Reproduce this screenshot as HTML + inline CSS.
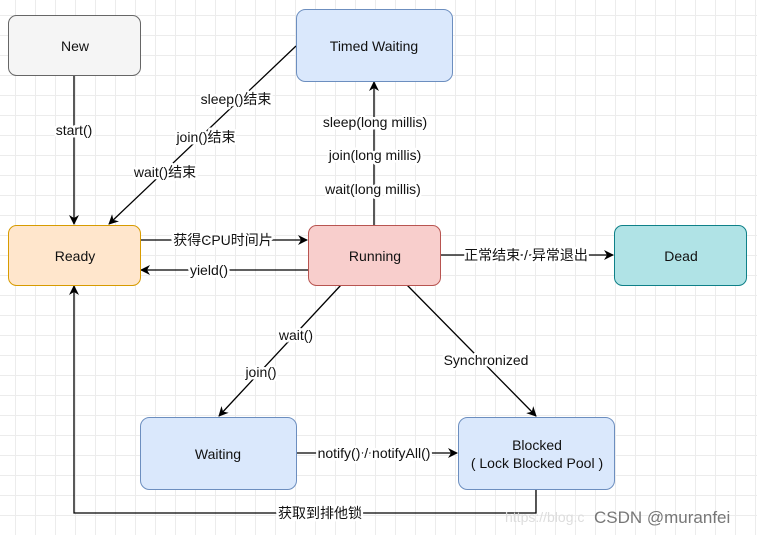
<!DOCTYPE html>
<html><head><meta charset="utf-8"><style>
body{margin:0;width:757px;height:535px;overflow:hidden;background:#fff;
background-image:linear-gradient(#ececec 1px,transparent 1px),linear-gradient(90deg,#ececec 1px,transparent 1px);background-size:20px 20px;background-position:-5px -5px;}
svg{position:absolute;left:0;top:0}
text{font-family:"Liberation Sans","Noto Sans CJK SC",sans-serif;font-size:14px;fill:#111}
.l{paint-order:stroke;stroke:#fff;stroke-width:5px;stroke-linejoin:round}
</style></head><body>
<svg width="757" height="535" viewBox="0 0 757 535">
<defs><marker id="a" markerWidth="10" markerHeight="10" refX="9" refY="5" orient="auto" markerUnits="userSpaceOnUse"><path d="M0,0 L10,5 L0,10 L3,5z" fill="#000"/></marker></defs>
<g stroke="#000" stroke-width="1.3" fill="none">
<line x1="74" y1="75" x2="74" y2="224" marker-end="url(#a)"/>
<line x1="296" y1="46" x2="109" y2="224" marker-end="url(#a)"/>
<line x1="374" y1="225" x2="374" y2="82" marker-end="url(#a)"/>
<line x1="140" y1="240" x2="307" y2="240" marker-end="url(#a)"/>
<line x1="308" y1="270" x2="141" y2="270" marker-end="url(#a)"/>
<line x1="440" y1="255" x2="613" y2="255" marker-end="url(#a)"/>
<line x1="341" y1="285" x2="219" y2="416" marker-end="url(#a)"/>
<line x1="407" y1="285" x2="536" y2="416" marker-end="url(#a)"/>
<line x1="296" y1="453" x2="457" y2="453" marker-end="url(#a)"/>
<polyline points="536,489 536,513 74,513 74,286" marker-end="url(#a)"/>
</g>
<rect x="8.5" y="15.5" width="132" height="60" rx="8" fill="#f5f5f5" stroke="#666"/>
<rect x="296.5" y="9.5" width="156" height="72" rx="9" fill="#dae8fc" stroke="#6c8ebf"/>
<rect x="8.5" y="225.5" width="132" height="60" rx="8" fill="#ffe6cc" stroke="#d79b00"/>
<rect x="308.5" y="225.5" width="132" height="60" rx="8" fill="#f8cecc" stroke="#b85450"/>
<rect x="614.5" y="225.5" width="132" height="60" rx="8" fill="#b0e3e6" stroke="#0e8088"/>
<rect x="140.5" y="417.5" width="156" height="72" rx="9" fill="#dae8fc" stroke="#6c8ebf"/>
<rect x="458.5" y="417.5" width="156" height="72" rx="9" fill="#dae8fc" stroke="#6c8ebf"/>
<g text-anchor="middle">
<text x="75" y="51">New</text>
<text x="374" y="51">Timed Waiting</text>
<text x="75" y="261">Ready</text>
<text x="375" y="261">Running</text>
<text x="681" y="261">Dead</text>
<text x="218" y="459">Waiting</text>
<text x="537" y="450">Blocked</text>
<text x="537" y="468">( Lock Blocked Pool )</text>
<text class="l" x="74" y="135">start()</text>
<text class="l" x="236" y="104">sleep()结束</text>
<text class="l" x="206" y="142">join()结束</text>
<text class="l" x="165" y="177">wait()结束</text>
<text class="l" x="375" y="127">sleep(long millis)</text>
<text class="l" x="375" y="160">join(long millis)</text>
<text class="l" x="373" y="194">wait(long millis)</text>
<text class="l" x="223" y="245">获得CPU时间片</text>
<text class="l" x="209" y="275">yield()</text>
<text class="l" x="526" y="260">正常结束 / 异常退出</text>
<text class="l" x="296" y="340">wait()</text>
<text class="l" x="261" y="377">join()</text>
<text class="l" x="486" y="365">Synchronized</text>
<text class="l" x="374" y="458">notify() / notifyAll()</text>
<text class="l" x="320" y="518">获取到排他锁</text>
</g>
<text x="505" y="522" style="fill:#ddd;font-size:14px">https://blog.c</text>
<text x="594" y="523" style="fill:#777;font-size:17px">CSDN @muranfei</text>
</svg>
</body></html>
